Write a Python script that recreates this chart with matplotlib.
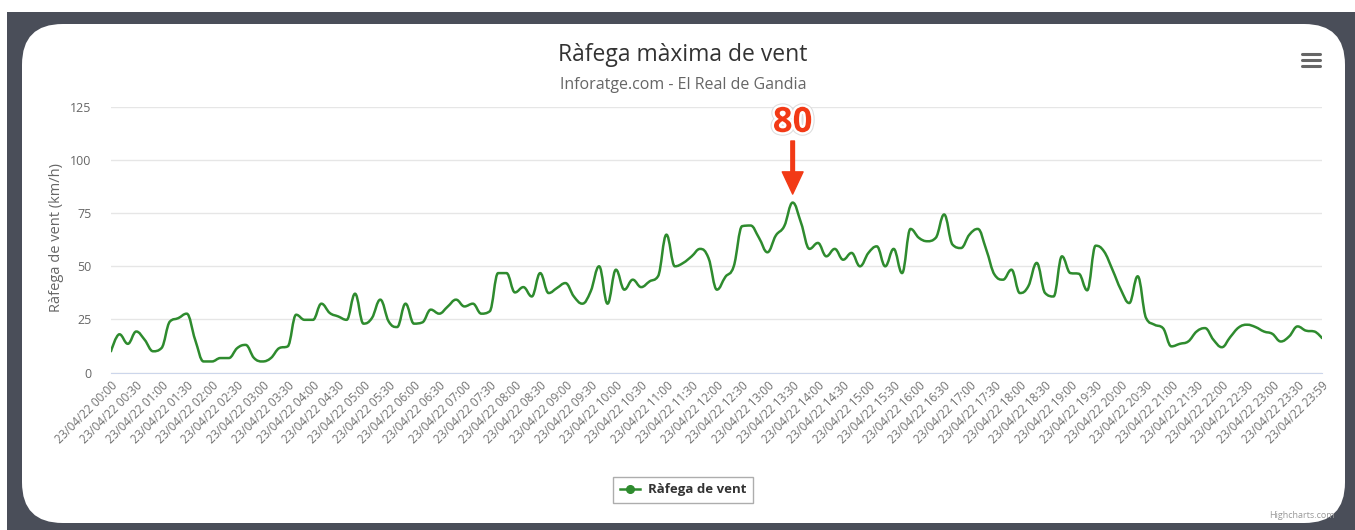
import matplotlib
matplotlib.use("Agg")
import matplotlib.pyplot as plt
import matplotlib.patheffects as pe
from matplotlib.path import Path
from matplotlib.patches import PathPatch, FancyBboxPatch, Rectangle
from matplotlib.lines import Line2D

plt.rcParams['font.family'] = ['Open Sans', 'DejaVu Sans']

# dades: ràfega (km/h) cada 10 minuts + 23:59
minuts = list(range(0, 1440, 10)) + [1439]
rafega = [
    10, 18, 13.5, 19.3, 15.4, 10, 11.5, 24, 25.6, 27.7,
    15.4, 5.2, 5.2, 6.8, 6.8, 11.5, 13, 6.8, 5.2, 6.8,
    11.5, 12.3, 27.2, 24.8, 24.8, 32.4, 28, 26.4, 24.8, 37.1,
    23, 25.6, 34.3, 24, 21.4, 32.4, 23, 23.6, 29.6, 27.7,
    31, 34.3, 31.1, 32.4, 27.7, 28.8, 46.8, 46.8, 37.7, 40.2,
    35.8, 46.8, 37.4, 39.8, 42.1, 35.8, 32.4, 38.2, 50, 32.4,
    48.4, 39, 43.7, 40.2, 42.9, 45.3, 64.9, 50, 51.6, 54.7,
    58.2, 53.9, 39, 45, 50, 68.9, 69.2, 63.4, 56.6, 64.5,
    68.9, 80, 70.4, 58.2, 61, 54.7, 58.2, 53.1, 56.3, 50,
    56.3, 59.4, 50, 58.2, 46.8, 67.6, 63.4, 61.8, 63.4, 74.4,
    60.2, 58.6, 64.9, 67.6, 57.9, 46, 43.7, 48.4, 37.4, 40.6,
    51.6, 37.4, 35.8, 54.7, 46.8, 46.5, 38.7, 59.7, 57, 48.4,
    39, 32.7, 45.3, 25.6, 22.5, 20.9, 12.3, 13.5, 14.6, 19.3,
    20.9, 15.4, 11.9, 16.7, 21.2, 22.5, 21.4, 19.3, 18.2, 14.6,
    17, 21.7, 19.7, 19.3, 16.2,
]
tick_minuts = list(range(0, 1440, 30)) + [1439]
tick_labels = ["23/04/22 %02d:%02d" % (m // 60, m % 60) for m in tick_minuts]
y_ticks = [0, 25, 50, 75, 100, 125]
max_val = 80

VERD = '#2e8b2e'
VERMELL = '#f23a16'
W, H = 1355, 530


# corba tipus spline (com Highcharts)
def spline_path(xs, ys, smoothing=1.5):
    n = len(xs)
    lc = [(xs[i], ys[i]) for i in range(n)]
    rc = [(xs[i], ys[i]) for i in range(n)]
    d = smoothing + 1
    for i in range(1, n - 1):
        x, y = xs[i], ys[i]
        lx, ly, nx, ny = xs[i - 1], ys[i - 1], xs[i + 1], ys[i + 1]
        lcx, lcy = (smoothing * x + lx) / d, (smoothing * y + ly) / d
        rcx, rcy = (smoothing * x + nx) / d, (smoothing * y + ny) / d
        if rcx != lcx:
            corr = (rcy - lcy) * (rcx - x) / (rcx - lcx) + y - rcy
            lcy += corr
            rcy += corr
        if lcy > ly and lcy > y:
            lcy = max(ly, y); rcy = 2 * y - lcy
        elif lcy < ly and lcy < y:
            lcy = min(ly, y); rcy = 2 * y - lcy
        if rcy > ny and rcy > y:
            rcy = max(ny, y); lcy = 2 * y - rcy
        elif rcy < ny and rcy < y:
            rcy = min(ny, y); lcy = 2 * y - rcy
        lc[i] = (lcx, lcy)
        rc[i] = (rcx, rcy)
    verts = [(xs[0], ys[0])]
    codes = [Path.MOVETO]
    for i in range(1, n):
        verts += [rc[i - 1], lc[i], (xs[i], ys[i])]
        codes += [Path.CURVE4] * 3
    return Path(verts, codes)


fig = plt.figure(figsize=(W / 100, H / 100), dpi=100)
fig.patch.set_facecolor('white')

# marc fosc i targeta blanca
fig.add_artist(Rectangle((7 / W, 0), 1, 1 - 12 / H, transform=fig.transFigure,
                         facecolor='#4a4e59', edgecolor='none', zorder=-3))
fig.add_artist(FancyBboxPatch((22 / W, 1 - 523 / H), (1345 - 22) / W, (523 - 24) / H,
                              boxstyle="round,pad=0,rounding_size=0.03",
                              mutation_aspect=W / H,
                              transform=fig.transFigure, facecolor='white',
                              edgecolor='none', zorder=-2))

ax = fig.add_axes([111 / W, 1 - 372.5 / H, 1211 / W, (372.5 - 107) / H])
ax.set_facecolor('none')
ax.set_xlim(0, 1439)
ax.set_ylim(0, 125)

ax.add_patch(PathPatch(spline_path(minuts, rafega), facecolor='none',
                       edgecolor=VERD, lw=1.8, capstyle='round', joinstyle='round', zorder=3))

ax.set_yticks(y_ticks)
ax.set_yticklabels([str(v) for v in y_ticks], fontsize=9, color='#666666')
ax.tick_params(axis='y', length=0, pad=14)
ax.grid(axis='y', color='#e6e6e6', lw=1)
ax.set_axisbelow(True)

ax.set_xticks(tick_minuts)
ax.set_xticklabels(tick_labels, rotation=45, ha='right', rotation_mode='anchor',
                   fontsize=8.4, color='#707070')
ax.tick_params(axis='x', length=0, pad=5)

for s in ['top', 'right', 'left']:
    ax.spines[s].set_visible(False)
ax.spines['bottom'].set_color('#ccd6eb')
ax.spines['bottom'].set_zorder(1)

# anotació del màxim
i_max = rafega.index(max(rafega))
ax.annotate('', xy=(minuts[i_max], 84), xytext=(minuts[i_max], 109),
            arrowprops=dict(facecolor=VERMELL, edgecolor=VERMELL, width=2.6,
                            headwidth=15, headlength=16, shrink=0), zorder=5)
ax.text(minuts[i_max], 117.5, str(max_val), ha='center', va='center', fontsize=25,
        fontweight='bold', color=VERMELL, zorder=6,
        path_effects=[pe.withStroke(linewidth=5, foreground='#dddddd'),
                      pe.withStroke(linewidth=3.5, foreground='white')])

# títols
fig.text(683 / W, 1 - 55 / H, 'Ràfega màxima de vent', ha='center', va='center',
         fontsize=16.5, color='#333333')
fig.text(683 / W, 1 - 85 / H, 'Inforatge.com - El Real de Gandia', ha='center',
         va='center', fontsize=11.5, color='#666666')
fig.text(57 / W, 1 - 238 / H, 'Ràfega de vent (km/h)', ha='center', va='center',
         rotation=90, fontsize=10.5, color='#666666')

# llegenda
handle = Line2D([], [], color=VERD, lw=1.8, marker='o', markersize=5.5)
leg = ax.legend([handle], ['Ràfega de vent'], loc='center',
                bbox_to_anchor=(683 / W, 1 - 490 / H), bbox_transform=fig.transFigure,
                frameon=True, fancybox=False, handlelength=1.5, handletextpad=0.6,
                borderpad=0.5, prop={'size': 9.5, 'weight': 'bold'})
leg.get_frame().set_edgecolor('#999999')
leg.get_frame().set_linewidth(1)
for t in leg.get_texts():
    t.set_color('#333333')

# icona de menú
for yy in (54, 60, 66):
    fig.add_artist(Line2D([1302 / W, 1320 / W], [1 - yy / H, 1 - yy / H],
                          transform=fig.transFigure, color='#666666', lw=2.2,
                          solid_capstyle='round'))

fig.text(1335 / W, 1 - 516 / H, 'Highcharts.com', ha='right', va='center',
         fontsize=6.5, color='#999999')

fig.savefig('out.png', dpi=100)
